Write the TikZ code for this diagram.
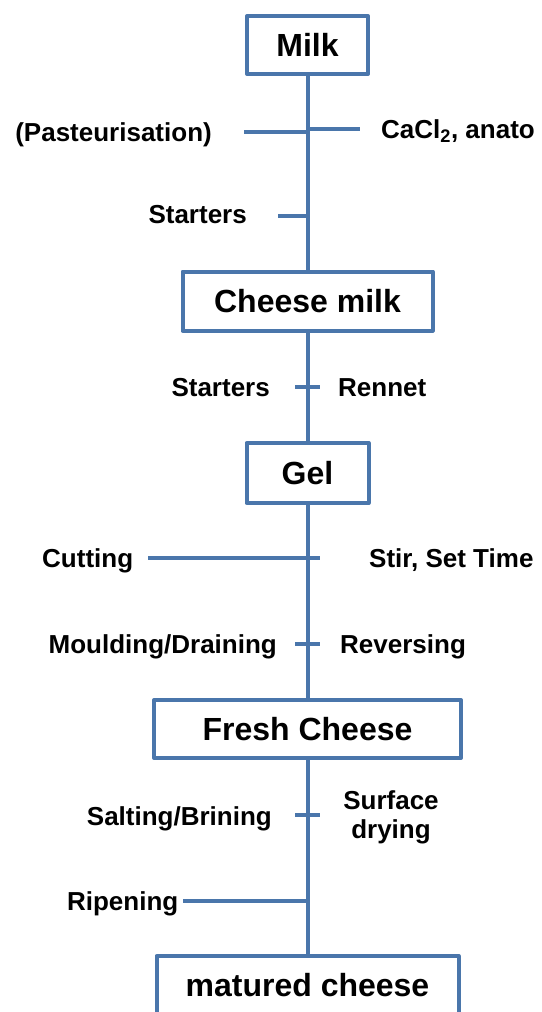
\documentclass[tikz,border=0pt]{standalone}
\usepackage{fontspec}
\setmainfont{Liberation Sans}
\definecolor{flowblue}{HTML}{4A76AB}
\begin{document}
\begin{tikzpicture}[x=1pt,y=-1pt,
    stage/.style={draw=flowblue,line width=4pt,line join=round,inner sep=0pt,
      font=\fontsize{32}{36}\selectfont\bfseries,text height=23pt,text depth=0pt},
    note/.style={inner sep=0pt,font=\fontsize{26}{29}\selectfont\bfseries},
    flow/.style={draw=flowblue,line width=4pt}]
  \useasboundingbox (0,0) rectangle (541,1012);
  \node[stage,minimum width=121pt,minimum height=58pt] (milk) at (307.5,45) {Milk};
  \node[stage,minimum width=250pt,minimum height=59pt] (cheesemilk) at (307.5,301) {Cheese milk};
  \node[stage,minimum width=122pt,minimum height=60pt] (gel) at (307.5,473) {Gel};
  \node[stage,minimum width=307pt,minimum height=58pt] (fresh) at (307.5,729) {Fresh Cheese};
  \node[stage,minimum width=302pt,minimum height=58pt] (matured) at (307.5,985) {matured cheese};
  \draw[flow] (milk) -- (cheesemilk);
  \draw[flow] (cheesemilk) -- (gel);
  \draw[flow] (gel) -- (fresh);
  \draw[flow] (fresh) -- (matured);
  \coordinate (pastL) at (244,131.5);
  \coordinate (pastR) at (307.5,131.5);
  \coordinate (caclL) at (307.5,128.5);
  \coordinate (caclR) at (360,128.5);
  \coordinate (startL) at (278,215.5);
  \coordinate (startR) at (307.5,215.5);
  \coordinate (cutL) at (148,557.5);
  \coordinate (cutR) at (320,557.5);
  \coordinate (ripeL) at (183,901);
  \coordinate (ripeR) at (307.5,901);
  \draw[flow] (pastL) -- (pastR);
  \draw[flow] (caclL) -- (caclR);
  \draw[flow] (startL) -- (startR);
  \draw[flow] (cutL) -- (cutR);
  \draw[flow] (ripeL) -- (ripeR);
  \foreach \y/\name in {386.5/rennet,643.5/revers,814.5/salt} {
    \coordinate (\name L) at (295,\y);
    \coordinate (\name R) at (320,\y);
    \draw[flow] (\name L) -- (\name R);
  }
  \node[note,anchor=base east] (pasteur) at (212,141) {(Pasteurisation)};
  \node[note,anchor=base west] (cacl) at (381,138) {CaCl\textsubscript{2}, anato};
  \node[note,anchor=base east] (starters) at (247,223.5) {Starters};
  \node[note,anchor=base east] (starterstwo) at (270,396.5) {Starters};
  \node[note,anchor=base west] (rennet) at (338,396.5) {Rennet};
  \node[note,anchor=base west] (cutting) at (42,567) {Cutting};
  \node[note,anchor=base west] (stir) at (369,567) {Stir, Set Time};
  \node[note,anchor=base east] (moulding) at (277,653.5) {Moulding/Draining};
  \node[note,anchor=base west] (reversing) at (340,653.5) {Reversing};
  \node[note,anchor=base east] (salting) at (272,825) {Salting/Brining};
  \node[note,align=center,anchor=base] (surface) at (391,838.5) {Surface\\drying};
  \node[note,anchor=base east] (ripening) at (178.5,910) {Ripening};
\end{tikzpicture}
\end{document}
